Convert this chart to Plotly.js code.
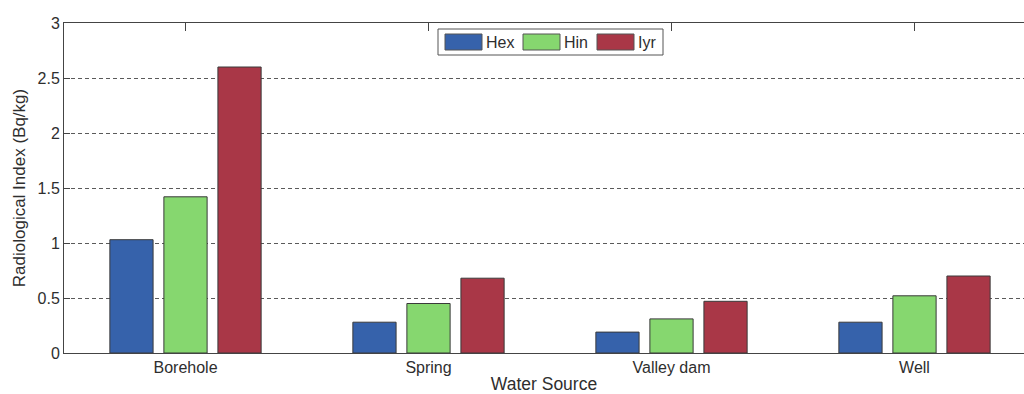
<!DOCTYPE html>
<html>
<head>
<meta charset="utf-8">
<script src="https://cdn.plot.ly/plotly-3.0.1.min.js"></script>
<style>
  html, body { margin: 0; padding: 0; background: #fff; overflow: hidden; }
  #chart { width: 1024px; height: 394px; }
</style>
</head>
<body>
<div id="chart"></div>
<script>
// Radiological hazard indices by water source
const sources = ['Borehole', 'Spring', 'Valley dam', 'Well'];
const seriesNames = ['Hex', 'Hin', 'Iyr'];
const hexValues = [1.03, 0.28, 0.19, 0.28];
const hinValues = [1.42, 0.45, 0.31, 0.52];
const iyrValues = [2.60, 0.68, 0.47, 0.70];
const yTickVals = [0, 0.5, 1, 1.5, 2, 2.5, 3];
const yTickText = ['0', '0.5', '1', '1.5', '2', '2.5', '3'];

const seriesValues = [hexValues, hinValues, iyrValues];
const seriesColors = ['#3662AB', '#86D76F', '#A93747'];
const textColor = '#2e2e2e';
const fontFamily = '"Liberation Sans", Arial, sans-serif';

// plot area geometry (pixels)
const W = 1024, H = 394;
const M = { l: 64, r: 0, t: 23, b: 41 };
const plotW = W - M.l - M.r;
const plotH = H - M.t - M.b;
const catSpacing = 243; // px between category centres

const traces = seriesNames.map((name, i) => ({
  type: 'bar',
  name: name,
  x: sources,
  y: seriesValues[i],
  marker: { color: seriesColors[i], line: { color: '#3a3a3a', width: 1 } },
  hoverinfo: 'skip'
}));

// legend drawn as a boxed row of wide swatches
const px = v => (v - M.l) / plotW;
const py = v => (H - M.b - v) / plotH;
const legendBox = { x0: 438, x1: 663, y0: 29, y1: 55 };
const legendItemX = [445, 523, 597];
const swatchW = 37, swatchTop = 34, swatchBottom = 50;

const shapes = [{
  type: 'rect', xref: 'paper', yref: 'paper',
  x0: px(legendBox.x0), x1: px(legendBox.x1),
  y0: py(legendBox.y1), y1: py(legendBox.y0),
  line: { color: '#555', width: 1 }, fillcolor: '#fff', layer: 'above'
}];
const annotations = [];
seriesNames.forEach((name, i) => {
  const x = legendItemX[i];
  shapes.push({
    type: 'rect', xref: 'paper', yref: 'paper',
    x0: px(x), x1: px(x + swatchW),
    y0: py(swatchBottom), y1: py(swatchTop),
    line: { color: '#555', width: 1 }, fillcolor: seriesColors[i], layer: 'above'
  });
  annotations.push({
    xref: 'paper', yref: 'paper',
    x: px(x + swatchW + 2), y: py((swatchTop + swatchBottom) / 2),
    xanchor: 'left', yanchor: 'middle', showarrow: false,
    text: name, font: { family: fontFamily, size: 16, color: textColor }
  });
});

const layout = {
  width: W, height: H,
  margin: M,
  paper_bgcolor: '#fff', plot_bgcolor: '#fff',
  barmode: 'group',
  bargap: 0.333,
  bargroupgap: 0.2,
  showlegend: false,
  font: { family: fontFamily, size: 16, color: textColor },
  xaxis: {
    type: 'category',
    range: [-0.5, -0.5 + plotW / catSpacing],
    showgrid: false,
    zeroline: false,
    showline: true, linecolor: '#444', linewidth: 1,
    mirror: 'ticks',
    ticks: 'inside', ticklen: 8, tickcolor: '#444',
    tickfont: { family: fontFamily, size: 16, color: textColor },
    title: { text: 'Water Source', standoff: 3, font: { family: fontFamily, size: 17.5, color: textColor } },
    layer: 'below traces',
    fixedrange: true
  },
  yaxis: {
    range: [0, 3],
    tickvals: yTickVals,
    ticktext: yTickText,
    showgrid: true, gridcolor: '#5a5a5a', gridwidth: 1, griddash: '4px,3px',
    zeroline: false,
    showline: true, linecolor: '#444', linewidth: 1,
    mirror: false,
    ticks: 'inside', ticklen: 6, tickcolor: '#444',
    tickfont: { family: fontFamily, size: 16, color: textColor },
    title: { text: 'Radiological Index (Bq/kg)', standoff: 7, font: { family: fontFamily, size: 17, color: textColor } },
    layer: 'below traces',
    fixedrange: true
  },
  shapes: shapes,
  annotations: annotations
};

Plotly.newPlot('chart', traces, layout, { staticPlot: true, displayModeBar: false });
</script>
</body>
</html>
